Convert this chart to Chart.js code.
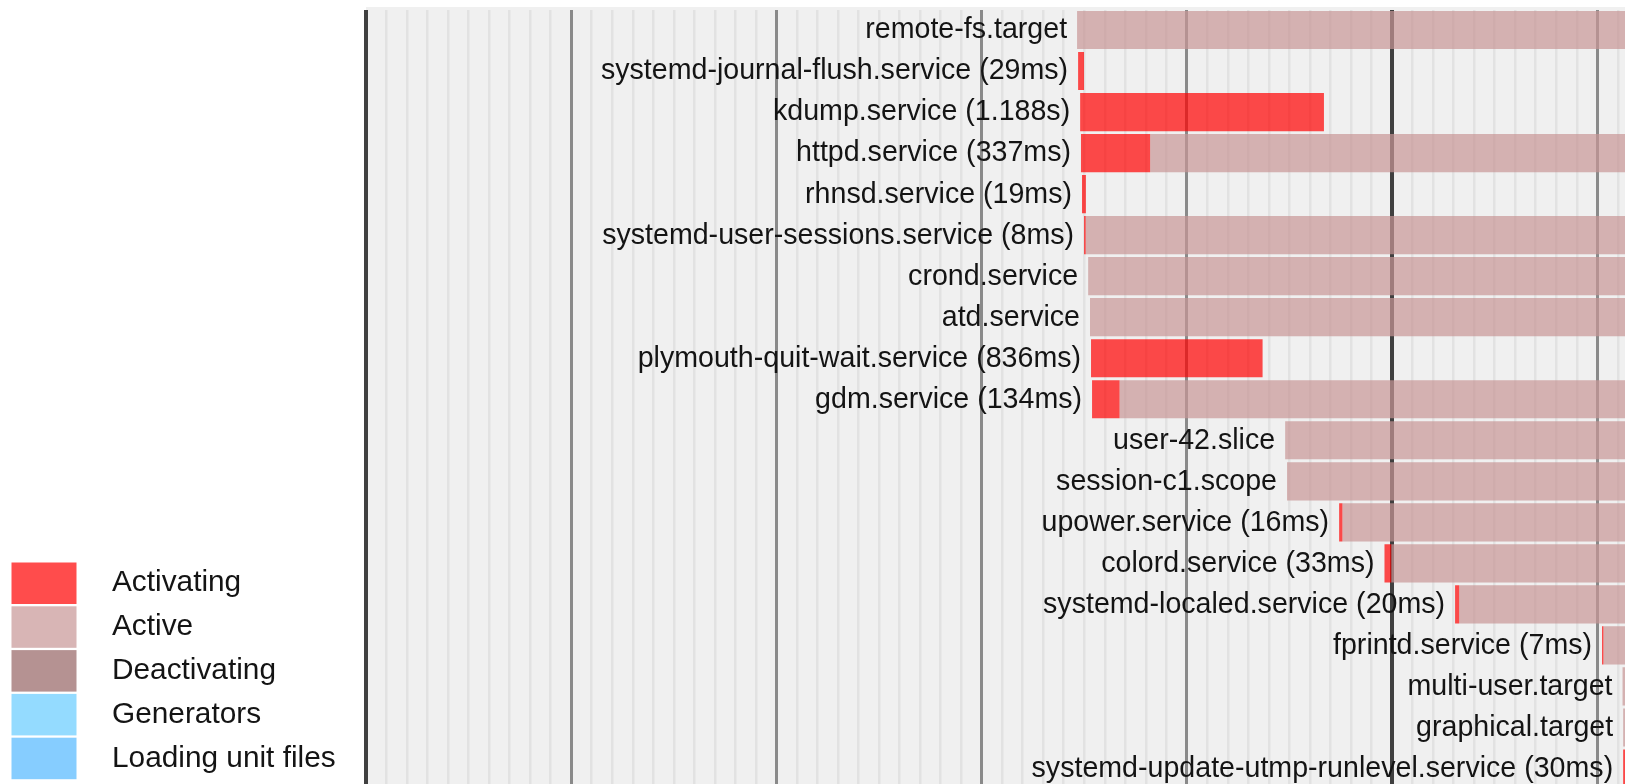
<!DOCTYPE html>
<html>
<head>
<meta charset="utf-8">
<script src="https://cdn.jsdelivr.net/npm/chart.js@4/dist/chart.umd.min.js"></script>
<style>
  html, body { margin: 0; padding: 0; background: #ffffff; overflow: hidden; }
  #c { display: block; }
</style>
</head>
<body>
<canvas id="c" width="1625" height="789"></canvas>
<script>
// ---- data (seconds since boot) ----
const units = [
  "remote-fs.target",
  "systemd-journal-flush.service (29ms)",
  "kdump.service (1.188s)",
  "httpd.service (337ms)",
  "rhnsd.service (19ms)",
  "systemd-user-sessions.service (8ms)",
  "crond.service",
  "atd.service",
  "plymouth-quit-wait.service (836ms)",
  "gdm.service (134ms)",
  "user-42.slice",
  "session-c1.scope",
  "upower.service (16ms)",
  "colord.service (33ms)",
  "systemd-localed.service (20ms)",
  "fprintd.service (7ms)",
  "multi-user.target",
  "graphical.target",
  "systemd-update-utmp-runlevel.service (30ms)"
];
const activatingStart = [null, 13.470, 13.480, 13.484, 13.489, 13.499, null, null, 13.533, 13.538, null, null, 14.742, 14.963, 15.307, 16.023, null, null, 16.126];
const activatingEnd   = [null, 13.499, 14.668, 13.821, 13.508, 13.507, null, null, 14.369, 13.672, null, null, 14.758, 14.996, 15.327, 16.030, null, null, 16.156];
const activeStart     = [13.465, null, null, 13.821, null, 13.507, 13.519, 13.528, null, 13.672, 14.479, 14.488, 14.758, 14.996, 15.327, 16.030, 16.123, 16.126, null];
const activeEnd       = [20, null, null, 20, null, 20, 20, 20, null, 20, 20, 20, 20, 20, 20, 20, 20, 20, null];

const timeMin = 10;      // left edge of the visible window (s)
const timeMax = 16.135;  // right edge of the visible window (s)

const legendLabels = ["Activating", "Active", "Deactivating", "Generators", "Loading unit files"];
const legendColors = ["rgba(255,0,0,0.7)", "rgba(200,150,150,0.7)", "rgba(150,100,100,0.7)", "rgba(102,204,255,0.7)", "rgba(82,184,255,0.7)"];

// ---- build datasets from arrays ----
const activatingData = units.map((_, i) => activatingStart[i] == null ? null : [activatingStart[i], activatingEnd[i]]);
const activeData = units.map((_, i) => activeStart[i] == null ? null : [activeStart[i], activeEnd[i]]);

const LABEL_FONT = '28.6px "Liberation Sans", Arial, Helvetica, sans-serif';
const LEGEND_FONT = '29.8px "Liberation Sans", Arial, Helvetica, sans-serif';

const bootPlotPlugin = {
  id: 'bootPlot',
  beforeDraw(chart) {
    const { ctx, chartArea } = chart;
    ctx.save();
    ctx.fillStyle = '#ffffff';
    ctx.fillRect(0, 0, chart.width, chart.height);
    ctx.fillStyle = 'rgb(240,240,240)';
    ctx.fillRect(chartArea.left, 7, chartArea.right - chartArea.left, chart.height - 7);
    ctx.restore();
  },
  afterDatasetsDraw(chart) {
    const { ctx, scales: { x, y } } = chart;
    ctx.save();
    ctx.font = LABEL_FONT;
    ctx.fillStyle = '#141414';
    ctx.textAlign = 'right';
    ctx.textBaseline = 'middle';
    units.forEach((u, i) => {
      const s = activatingStart[i] != null ? activatingStart[i] : activeStart[i];
      ctx.fillText(u, x.getPixelForValue(s) - 10, y.getPixelForValue(i) + 0.5);
    });
    // legend
    ctx.font = LEGEND_FONT;
    ctx.textAlign = 'left';
    const top0 = 562.5, pitch = 43.8, boxW = 65, boxH = 41.5, boxX = 11.5, textX = 112;
    legendLabels.forEach((lab, k) => {
      const top = top0 + k * pitch;
      ctx.fillStyle = legendColors[k];
      ctx.fillRect(boxX, top, boxW, boxH);
      ctx.fillStyle = '#141414';
      ctx.fillText(lab, textX, top + boxH / 2);
    });
    ctx.restore();
  }
};

function gridKind(v) {
  const t = Math.round(v * 10);
  if (t % 50 === 0) return 2;
  if (t % 10 === 0) return 1;
  return 0;
}

new Chart(document.getElementById('c'), {
  type: 'bar',
  data: {
    labels: units,
    datasets: [
      { label: 'Activating', data: activatingData, backgroundColor: legendColors[0], barPercentage: 0.93, categoryPercentage: 1.0 },
      { label: 'Active', data: activeData, backgroundColor: legendColors[1], barPercentage: 0.93, categoryPercentage: 1.0 }
    ]
  },
  options: {
    indexAxis: 'y',
    responsive: false,
    animation: false,
    devicePixelRatio: 1,
    layout: { padding: { left: 366, right: 0, top: 9.5, bottom: 0 } },
    plugins: { legend: { display: false }, tooltip: { enabled: false } },
    scales: {
      x: {
        type: 'linear',
        min: timeMin,
        max: timeMax,
        position: 'top',
        afterBuildTicks(scale) {
          const ticks = [];
          for (let t = Math.ceil(timeMin * 10); t <= Math.floor(timeMax * 10); t++) ticks.push({ value: t / 10 });
          scale.ticks = ticks;
        },
        ticks: { display: false, autoSkip: false },
        border: { display: false },
        grid: {
          drawTicks: false,
          color: (c) => ['#e2e2e2', '#8a8a8a', '#404040'][gridKind(c.tick.value)],
          lineWidth: (c) => [2.5, 3, 4][gridKind(c.tick.value)]
        }
      },
      y: {
        type: 'category',
        stacked: true,
        display: false
      }
    }
  },
  plugins: [bootPlotPlugin]
});
</script>
</body>
</html>
